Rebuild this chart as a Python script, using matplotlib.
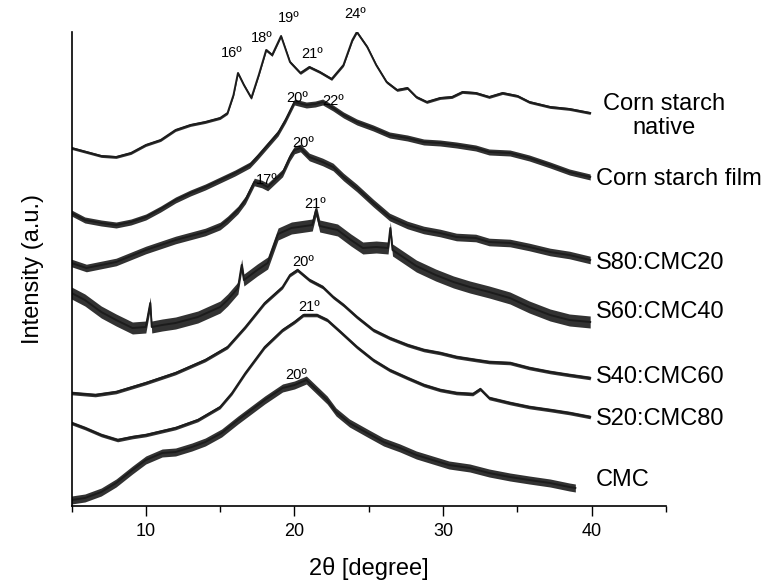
import matplotlib
matplotlib.use("Agg")
import matplotlib.pyplot as plt

plt.rcParams['font.family'] = ['Liberation Sans', 'DejaVu Sans']

# ---- data (stacked intensities, arbitrary units) ----
native_x = [5.0, 6.0, 7.0, 8.0, 9.0, 10.0, 11.0, 12.0, 13.0, 14.0,
            15.0, 15.5, 15.9, 16.2, 16.6, 17.1, 17.6, 18.1, 18.5, 19.1,
            19.7, 20.4, 21.0, 21.7, 22.5, 23.3, 23.9, 24.2, 24.9, 25.5,
            26.2, 26.9, 27.6, 28.2, 28.9, 29.8, 30.6, 31.3, 32.2, 33.1,
            34.0, 35.0, 35.8, 37.2, 38.5, 39.9]
native_y = [358, 354, 350, 349, 353, 361, 366, 376, 381, 384,
            388, 393, 411, 433, 421, 408, 431, 456, 451, 470,
            444, 433, 439, 434, 427, 441, 466, 474, 459, 441,
            424, 416, 418, 409, 404, 408, 409, 414, 413, 409,
            413, 410, 404, 399, 397, 393]

film_x = [5.0, 5.9, 7.0, 8.0, 9.0, 10.0, 11.0, 12.0, 13.0, 14.0,
          15.0, 16.0, 17.0, 17.5, 18.2, 18.9, 19.4, 19.8, 20.0, 20.8,
          21.4, 21.9, 22.6, 23.3, 24.2, 25.3, 26.4, 27.6, 28.7, 29.8,
          30.9, 32.2, 33.1, 34.5, 35.8, 37.2, 38.5, 39.9]
film_y = [293, 286, 283, 281, 284, 289, 297, 306, 313, 319,
          326, 333, 341, 349, 361, 373, 386, 398, 404, 401,
          402, 404, 398, 391, 384, 378, 371, 368, 364, 363,
          361, 358, 354, 353, 348, 341, 334, 329]

s80_x = [5.0, 6.0, 7.0, 8.0, 9.0, 10.0, 11.0, 12.0, 13.0, 14.0,
         15.0, 15.5, 16.2, 16.7, 17.3, 17.8, 18.2, 18.7, 19.2, 19.7,
         20.0, 20.4, 21.0, 21.9, 22.6, 23.3, 24.2, 25.3, 26.4, 27.6,
         28.7, 29.8, 30.9, 32.2, 33.1, 34.5, 35.8, 37.2, 38.5, 39.9]
s80_y = [243, 238, 241, 244, 250, 256, 261, 266, 270, 274,
         280, 286, 296, 306, 324, 322, 319, 326, 333, 349,
         356, 358, 349, 344, 339, 329, 318, 303, 289, 281,
         276, 273, 269, 268, 264, 263, 259, 254, 251, 246]

s60_x = [5.0, 5.9, 7.0, 8.0, 9.1, 10.0, 10.3, 10.4, 11.1, 12.0,
         13.5, 15.0, 15.5, 16.2, 16.45, 16.6, 17.5, 18.2, 18.9, 19.8,
         21.2, 21.45, 21.7, 22.9, 23.8, 24.6, 25.5, 26.3, 26.45, 26.6,
         28.2, 29.5, 30.7, 31.8, 33.1, 34.5, 35.8, 37.2, 38.5, 39.9]
s60_y = [213, 206, 194, 186, 178, 179, 203, 179, 181, 183,
         189, 199, 206, 218, 241, 226, 236, 243, 272, 278,
         281, 296, 280, 276, 266, 258, 259, 258, 278, 256,
         240, 231, 224, 219, 214, 208, 199, 191, 186, 184]

s40_x = [5.0, 6.6, 8.0, 10.0, 12.0, 14.0, 15.5, 16.7, 18.0, 19.2,
         19.7, 20.2, 21.0, 21.9, 22.6, 23.3, 24.2, 25.3, 26.4, 27.6,
         28.7, 29.8, 30.9, 32.2, 33.1, 34.5, 35.8, 37.2, 38.5, 39.9]
s40_y = [113, 111, 114, 123, 133, 146, 159, 179, 203, 219,
         231, 236, 226, 219, 209, 201, 189, 176, 168, 161,
         156, 153, 149, 146, 144, 143, 138, 134, 131, 128]

s20_x = [5.0, 5.9, 7.0, 8.1, 9.1, 10.0, 12.0, 13.5, 15.0, 15.8,
         16.7, 18.0, 19.2, 20.0, 20.6, 21.5, 22.2, 23.1, 24.2, 25.3,
         26.4, 27.6, 28.7, 29.8, 30.9, 32.0, 32.5, 33.1, 34.5, 35.8,
         37.2, 38.5, 39.9]
s20_y = [83, 78, 71, 66, 69, 71, 78, 86, 99, 113,
         133, 159, 176, 184, 191, 191, 186, 174, 159, 146,
         136, 128, 121, 116, 113, 112, 117, 108, 103, 99,
         96, 93, 89]

cmc_x = [5.0, 5.9, 7.0, 8.0, 9.1, 10.0, 11.1, 12.0, 13.1, 14.0,
         15.1, 16.2, 17.1, 18.0, 19.2, 20.0, 20.8, 21.5, 22.2, 22.8,
         23.7, 24.9, 26.0, 27.1, 28.2, 29.3, 30.4, 31.8, 33.1, 34.5,
         35.8, 37.2, 38.5, 38.9]
cmc_y = [6, 8, 14, 23, 36, 46, 53, 54, 59, 64,
         73, 86, 96, 106, 118, 121, 126, 116, 106, 94,
         83, 73, 64, 58, 51, 46, 41, 38, 33, 29,
         26, 23, 19, 18]

series_labels = ["Corn starch\nnative", "Corn starch film", "S80:CMC20",
                 "S60:CMC40", "S40:CMC60", "S20:CMC80", "CMC"]
label_levels = [390, 327, 243, 194, 129, 87, 26]

peak_labels = ["16º", "18º", "19º", "21º", "24º", "20º", "22º", "20º", "17º",
               "21º", "20º", "21º", "20º"]
peak_x = [15.8, 17.8, 19.6, 21.2, 24.1, 20.2, 22.6, 20.6, 18.1,
          21.4, 20.6, 21.0, 20.1]
peak_y = [453, 468, 488, 452, 492, 408, 405, 363, 326,
          302, 244, 199, 131]

# ---- styling ----
curves = [(native_x, native_y), (film_x, film_y), (s80_x, s80_y), (s60_x, s60_y),
          (s40_x, s40_y), (s20_x, s20_y), (cmc_x, cmc_y)]
noise_half = [1.4, 3.0, 3.8, 6.0, 1.8, 1.8, 4.0]
ink = '#1c1c1c'

fig = plt.figure(figsize=(7.72, 5.85), dpi=100)
ax = fig.add_axes([71.5 / 772, 79 / 585, 594.5 / 772, 474 / 585])

for (xs, ys), nh in zip(curves, noise_half):
    lo = [v - nh for v in ys]
    hi = [v + nh for v in ys]
    ax.fill_between(xs, lo, hi, color=ink, linewidth=0, alpha=0.9)
    ax.plot(xs, ys, color=ink, linewidth=1.4)

for txt, lvl in zip(series_labels, label_levels):
    if "\n" in txt:
        ax.text(44.85, lvl, txt, ha='center', va='center', fontsize=17,
                linespacing=1.1, clip_on=False)
    else:
        ax.text(40.3, lvl, txt, ha='left', va='center', fontsize=17, clip_on=False)

for txt, px, py in zip(peak_labels, peak_x, peak_y):
    ax.text(px, py, txt, ha='center', va='center', fontsize=10.5, clip_on=False)

ax.set_xlim(5, 45)
ax.set_ylim(0, 474)
ax.set_xticks([10, 20, 30, 40])
ax.set_xticks([5, 15, 25, 35, 45], minor=True)
ax.set_yticks([])
ax.tick_params(axis='x', which='major', length=7, width=1, direction='out',
               labelsize=13, pad=5)
ax.tick_params(axis='x', which='minor', length=4, width=1, direction='out')
for s in ['top', 'right']:
    ax.spines[s].set_visible(False)
ax.spines['left'].set_linewidth(1.2)
ax.spines['bottom'].set_linewidth(1.2)

ax.set_xlabel("2θ [degree]", fontsize=17)
ax.xaxis.label.set_va('center')
ax.xaxis.set_label_coords(0.5, -(568 - 506) / 474)
ax.set_ylabel("Intensity (a.u.)", fontsize=17)
ax.yaxis.label.set_va('center')
ax.yaxis.set_label_coords(-(71.5 - 33) / 594.5, 0.5)

fig.savefig("out.png", dpi=100)
